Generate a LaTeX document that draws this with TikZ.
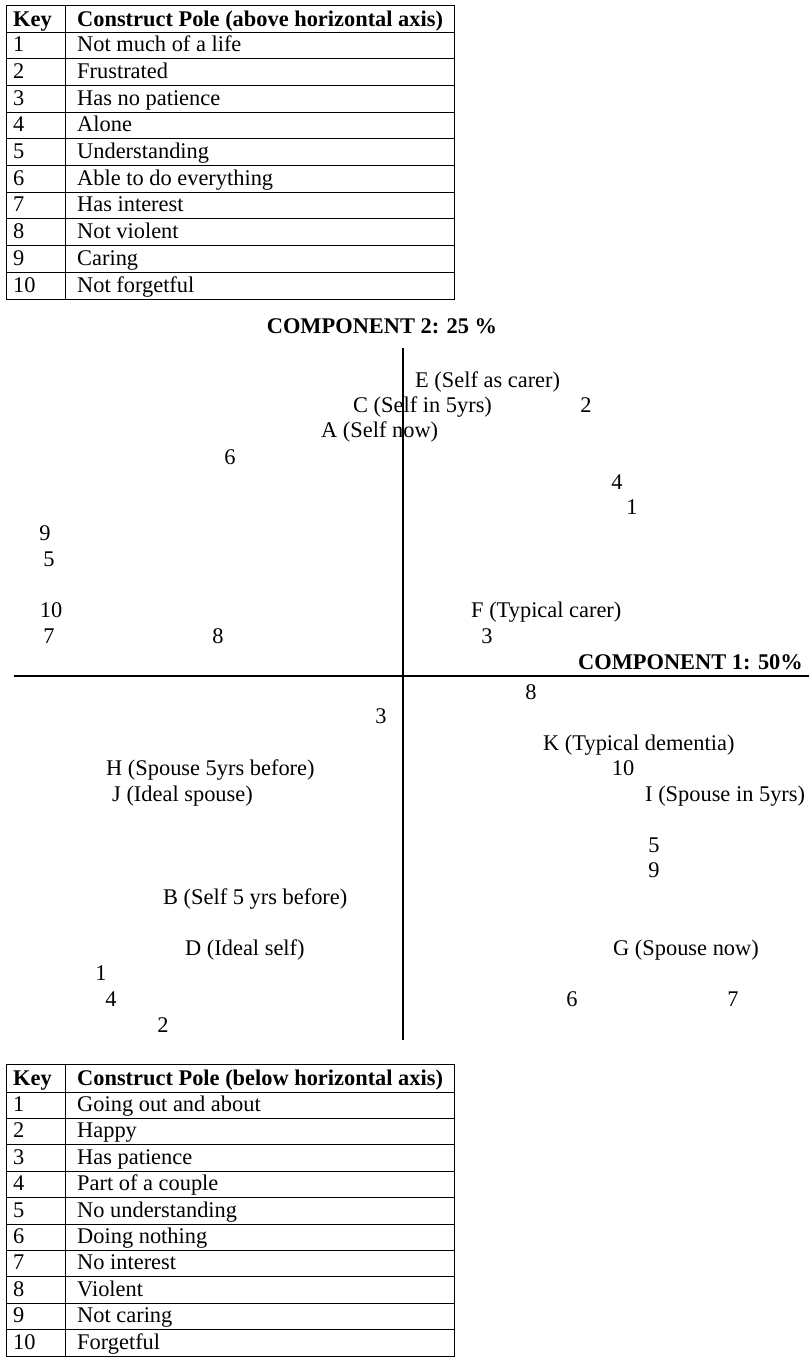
\documentclass[tikz,border=0pt]{standalone}
\usepackage{fontspec}
\setmainfont{Liberation Serif}
\begin{document}
\begin{tikzpicture}[x=1pt,y=-1pt,
  every node/.style={inner sep=0pt, font=\fontsize{22.4}{26}\selectfont},
  hdr/.style={font=\fontsize{22.4}{26}\selectfont\bfseries},
  lbl/.style={anchor=base west},
  num/.style={anchor=base},
  axisline/.style={line width=2.7pt},
  rule/.style={line width=1pt}]
\useasboundingbox (0,0) rectangle (809,1357);

% ---------- top table ----------
\draw[rule] (6,5) rectangle (454,299);
\draw[rule] (65,5) -- (65,299);
\foreach \k in {0,...,9} \draw[rule] (6,{32+26.7*\k}) -- (454,{32+26.7*\k});
\node[hdr,lbl] (tk) at (13,26) {Key};
\node[hdr,lbl] (tc) at (77,26) {Construct Pole (above horizontal axis)};
\foreach \i/\t in {1/Not much of a life,2/Frustrated,3/Has no patience,4/Alone,5/Understanding,6/Able to do everything,7/Has interest,8/Not violent,9/Caring,10/Not forgetful}{
  \node[lbl] (tn\i) at (13,{32+26.7*\i-7}) {\i};
  \node[lbl] (tt\i) at (77,{32+26.7*\i-7}) {\t};
}

% ---------- axes ----------
\coordinate (vt) at (403,348);
\coordinate (vb) at (403,1040);
\coordinate (hl) at (14,676);
\coordinate (hr) at (809,676);
\draw[axisline] (vt) -- (vb);
\draw[axisline] (hl) -- (hr);
\node[hdr,num] (c2) at (382,333) {COMPONENT 2: 25 \%};
\node[hdr,anchor=base east] (c1) at (803,669) {COMPONENT 1: 50\%};

% ---------- elements ----------
\node[lbl] (E) at (415,387) {E (Self as carer)};
\node[lbl] (C) at (353,412) {C (Self in 5yrs)};
\node[lbl] (A) at (321,437) {A (Self now)};
\node[lbl] (F) at (471,617) {F (Typical carer)};
\node[lbl] (K) at (543,750) {K (Typical dementia)};
\node[lbl] (H) at (106,775) {H (Spouse 5yrs before)};
\node[lbl] (J) at (112,801) {J (Ideal spouse)};
\node[lbl] (I) at (645,801) {I (Spouse in 5yrs)};
\node[lbl] (B) at (163,904) {B (Self 5 yrs before)};
\node[lbl] (D) at (185,955) {D (Ideal self)};
\node[lbl] (G) at (613,955) {G (Spouse now)};

% ---------- construct poles above ----------
\node[num] (u2) at (586,412) {2};
\node[num] (u6) at (230,464) {6};
\node[num] (u4) at (617,489) {4};
\node[num] (u1) at (632,514) {1};
\node[num] (u9) at (45,540) {9};
\node[num] (u5) at (49,566) {5};
\node[num] (u10) at (51,617) {10};
\node[num] (u7) at (49,643) {7};
\node[num] (u8) at (218,643) {8};
\node[num] (u3) at (487,643) {3};

% ---------- construct poles below ----------
\node[num] (d8) at (531,699) {8};
\node[num] (d3) at (381,723) {3};
\node[num] (d10) at (623,775) {10};
\node[num] (d5) at (654,852) {5};
\node[num] (d9) at (654,877) {9};
\node[num] (d1) at (101,980) {1};
\node[num] (d4) at (111,1006) {4};
\node[num] (d6) at (572,1006) {6};
\node[num] (d7) at (733,1006) {7};
\node[num] (d2) at (163,1032) {2};

% ---------- bottom table ----------
\draw[rule] (6,1064) rectangle (454,1356);
\draw[rule] (65,1064) -- (65,1356);
\foreach \k in {0,...,9} \draw[rule] (6,{1092+26.4*\k}) -- (454,{1092+26.4*\k});
\node[hdr,lbl] (bk) at (13,1085) {Key};
\node[hdr,lbl] (bc) at (77,1085) {Construct Pole (below horizontal axis)};
\foreach \i/\t in {1/Going out and about,2/Happy,3/Has patience,4/Part of a couple,5/No understanding,6/Doing nothing,7/No interest,8/Violent,9/Not caring,10/Forgetful}{
  \node[lbl] (bn\i) at (13,{1092+26.4*\i-7}) {\i};
  \node[lbl] (bt\i) at (77,{1092+26.4*\i-7}) {\t};
}
\end{tikzpicture}
\end{document}
